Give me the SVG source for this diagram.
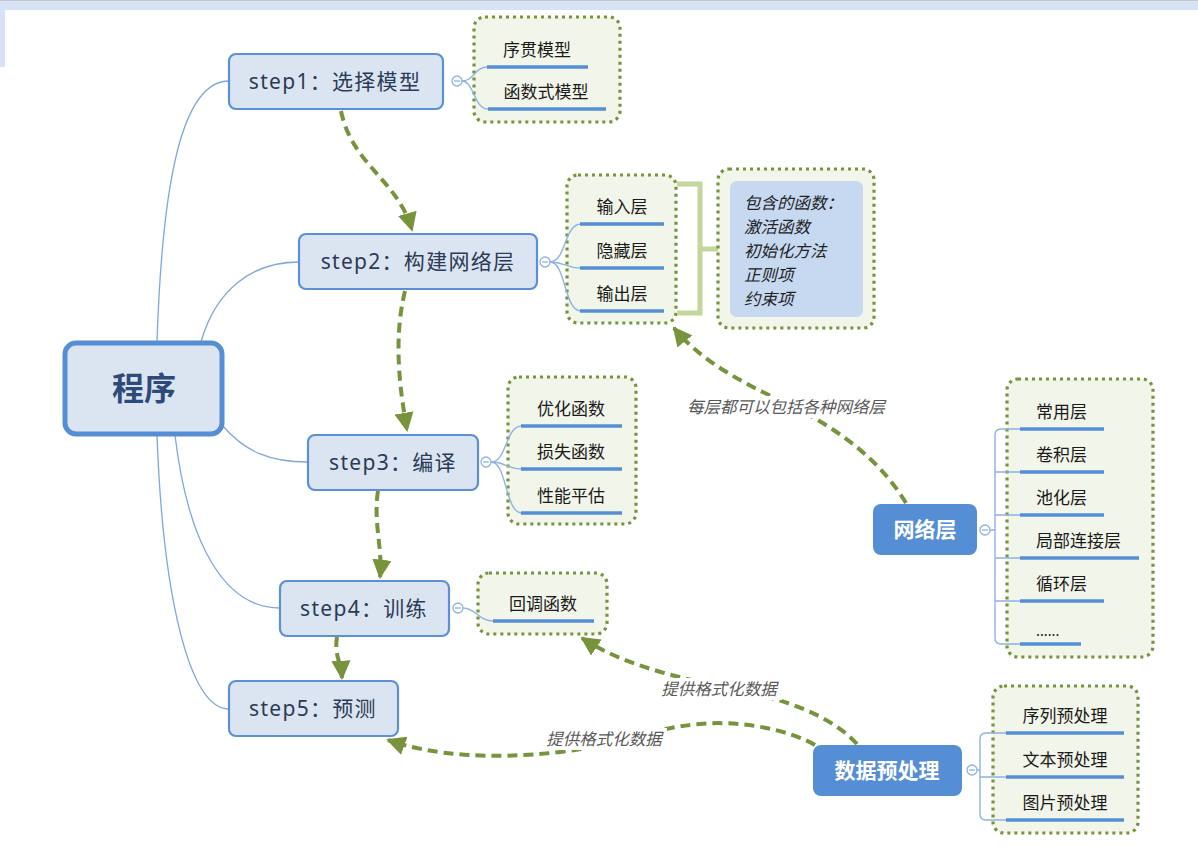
<svg xmlns="http://www.w3.org/2000/svg" width="1198" height="856" viewBox="0 0 1198 856">
<defs>
<style>
.bg{fill:#ffffff}
.band{fill:#d6e2f6}
.tree{fill:none;stroke:#7fa7dc;stroke-width:1.3}
.br{fill:none;stroke:#8db3e2;stroke-width:1.4}
.ul{stroke:#558ed5;stroke-width:3.5;fill:none}
.step rect{fill:#dbe5f1;stroke:#5b8fd6;stroke-width:2.2}
.step text{font-family:"Noto Sans","Noto Sans CJK SC",sans-serif;font-size:21px;fill:#2b3a55;text-anchor:middle;letter-spacing:1.3px}
.grp{fill:#f2f5ea;stroke:#77933c;stroke-width:3.2;stroke-dasharray:3 4}
.item{font-family:"Noto Sans CJK SC","Noto Sans",sans-serif;font-size:17px;fill:#1a1a1a;text-anchor:middle}
.col{fill:#ffffff;stroke:#8db3e2;stroke-width:1.3}
.colm{stroke:#8db3e2;stroke-width:1.3}
.dash{fill:none;stroke:#77933c;stroke-width:4;stroke-dasharray:10 6}
.lbl{font-family:"Noto Sans CJK SC",sans-serif;font-size:16.5px;font-style:italic;fill:#595959;text-anchor:middle}
.note{font-family:"Noto Sans CJK SC",sans-serif;font-size:16.5px;font-style:italic;fill:#222222}
.brk{fill:none;stroke:#c3d69b;stroke-width:5}
.hubt{font-family:"Noto Sans CJK SC",sans-serif;font-size:21px;font-weight:bold;fill:#ffffff;text-anchor:middle}
</style>
<marker id="ah" viewBox="0 0 10 10" refX="9" refY="5" markerWidth="4.8" markerHeight="4.8" orient="auto" markerUnits="strokeWidth">
<path d="M0,0 L10,5 L0,10 Z" fill="#77933c"/>
</marker>
</defs>
<rect class="bg" x="0" y="0" width="1198" height="856"/>
<rect class="band" x="0" y="0" width="1198" height="10"/>
<rect class="band" x="0" y="0" width="5" height="67"/>
<line x1="0" y1="0.5" x2="1198" y2="0.5" stroke="#c8c8c8" stroke-width="1"/>

<g id="connectors">
<path class="tree" d="M157,342 C162,190 180,81 229,81"/>
<path class="tree" d="M201,342 C215,292 250,262 299,262"/>
<path class="tree" d="M222,425 C245,452 270,462 308,462"/>
<path class="tree" d="M175,435 C188,545 225,608 280,608"/>
<path class="tree" d="M157,435 C163,600 190,709 229,709"/>
<path class="dash" marker-end="url(#ah)" d="M341,111 C352,165 398,180 412,230"/>
<path class="dash" marker-end="url(#ah)" d="M405,291 C393,340 400,390 407,430"/>
<path class="dash" marker-end="url(#ah)" d="M378,491 C373,522 383,550 380,577"/>
<path class="dash" marker-end="url(#ah)" d="M337,637 C334,655 341,662 342,678"/>
<path class="dash" marker-end="url(#ah)" d="M906,503 C880,460 840,430 790,405 C740,382 700,360 674,328"/>
<path class="dash" marker-end="url(#ah)" d="M857,744 C835,720 800,705 760,695 C700,682 630,670 582,638"/>
<path class="dash" marker-end="url(#ah)" d="M815,745 C790,730 740,720 700,724 C650,728 620,745 560,752 C490,760 430,755 388,740"/>
<rect x="680" y="396" width="212" height="22" fill="#ffffff"/>
<text class="lbl" x="786" y="413">每层都可以包括各种网络层</text>
<rect x="656" y="678" width="126" height="22" fill="#ffffff"/>
<text class="lbl" x="719" y="695">提供格式化数据</text>
<rect x="541" y="728" width="126" height="22" fill="#ffffff"/>
<text class="lbl" x="604" y="745">提供格式化数据</text>
</g>

<g id="root">
<rect x="65" y="343" width="157" height="91" rx="11" fill="#dbe5f1" stroke="#558ed5" stroke-width="5"/>
<text x="144" y="400" font-family="Noto Sans CJK SC,sans-serif" font-size="32" font-weight="bold" fill="#2e4a7a" text-anchor="middle">程序</text>
</g>

<g id="step1" class="step">
<rect x="229" y="54" width="214" height="55" rx="7"/>
<text x="335" y="89">step1：选择模型</text>
</g>
<g id="step1-children">
<rect class="grp" x="474" y="17" width="146" height="105" rx="11"/>
<path class="br" d="M462,81 C474,81 474,67 488,67"/>
<path class="br" d="M462,81 C474,81 474,109 488,109"/>
<line class="ul" x1="487" y1="67" x2="588" y2="67"/>
<line class="ul" x1="488" y1="109" x2="606" y2="109"/>
<text class="item" x="537" y="56">序贯模型</text>
<text class="item" x="546" y="98">函数式模型</text>
<circle class="col" cx="457" cy="81" r="5"/>
<line class="colm" x1="454" y1="81" x2="460" y2="81"/>
</g>

<g id="step2" class="step">
<rect x="299" y="234" width="238" height="55" rx="7"/>
<text x="418" y="269">step2：构建网络层</text>
</g>
<g id="step2-children">
<rect class="grp" x="567" y="175" width="109" height="148" rx="11"/>
<path class="br" d="M550,262 C566,262 564,224 581,224"/>
<path class="br" d="M550,262 C566,262 564,268 581,268"/>
<path class="br" d="M550,262 C566,262 564,311 581,311"/>
<line class="ul" x1="580" y1="224" x2="664" y2="224"/>
<line class="ul" x1="580" y1="268" x2="664" y2="268"/>
<line class="ul" x1="580" y1="311" x2="664" y2="311"/>
<text class="item" x="622" y="213">输入层</text>
<text class="item" x="622" y="257">隐藏层</text>
<text class="item" x="622" y="300">输出层</text>
<circle class="col" cx="545" cy="262" r="5"/>
<line class="colm" x1="542" y1="262" x2="548" y2="262"/>
</g>

<g id="summary">
<path class="brk" d="M677,184 L700,184 L700,313 L677,313 M700,249 L720,249"/>
</g>
<g id="note">
<rect class="grp" x="718" y="169" width="156" height="159" rx="11"/>
<rect x="730" y="181" width="133" height="136" rx="7" fill="#c6d9f1"/>
<text class="note" x="744" y="209">包含的函数：</text>
<text class="note" x="744" y="233">激活函数</text>
<text class="note" x="744" y="257">初始化方法</text>
<text class="note" x="744" y="281">正则项</text>
<text class="note" x="744" y="305">约束项</text>
</g>

<g id="step3" class="step">
<rect x="308" y="435" width="170" height="55" rx="7"/>
<text x="393" y="470">step3：编译</text>
</g>
<g id="step3-children">
<rect class="grp" x="508" y="377" width="128" height="147" rx="11"/>
<path class="br" d="M491,462 C507,462 505,426 522,426"/>
<path class="br" d="M491,462 C507,462 505,469 522,469"/>
<path class="br" d="M491,462 C507,462 505,513 522,513"/>
<line class="ul" x1="521" y1="426" x2="622" y2="426"/>
<line class="ul" x1="521" y1="469" x2="622" y2="469"/>
<line class="ul" x1="521" y1="513" x2="622" y2="513"/>
<text class="item" x="571" y="415">优化函数</text>
<text class="item" x="571" y="458">损失函数</text>
<text class="item" x="571" y="502">性能平估</text>
<circle class="col" cx="486" cy="462" r="5"/>
<line class="colm" x1="483" y1="462" x2="489" y2="462"/>
</g>

<g id="step4" class="step">
<rect x="280" y="581" width="169" height="55" rx="7"/>
<text x="364" y="616">step4：训练</text>
</g>
<g id="step4-children">
<rect class="grp" x="478" y="573" width="129" height="61" rx="11"/>
<path class="br" d="M463,608 C476,608 478,621 494,621"/>
<line class="ul" x1="493" y1="621" x2="594" y2="621"/>
<text class="item" x="543" y="610">回调函数</text>
<circle class="col" cx="458" cy="608" r="5"/>
<line class="colm" x1="455" y1="608" x2="461" y2="608"/>
</g>

<g id="step5" class="step">
<rect x="229" y="681" width="169" height="55" rx="7"/>
<text x="313" y="716">step5：预测</text>
</g>

<g id="network">
<rect x="873" y="504" width="104" height="51" rx="8" fill="#558ed5"/>
<text class="hubt" x="925" y="537">网络层</text>
</g>
<g id="network-children">
<rect class="grp" x="1007" y="379" width="146" height="278" rx="11"/>
<path class="br" d="M990,530 L995,530 M1020,429 L1001,429 Q995,429 995,435 L995,638 Q995,644 1001,644 L1020,644 M995,472 L1020,472 M995,515 L1020,515 M995,558 L1020,558 M995,601 L1020,601"/>
<line class="ul" x1="1020" y1="429" x2="1104" y2="429"/>
<line class="ul" x1="1020" y1="472" x2="1104" y2="472"/>
<line class="ul" x1="1020" y1="515" x2="1104" y2="515"/>
<line class="ul" x1="1020" y1="558" x2="1139" y2="558"/>
<line class="ul" x1="1020" y1="601" x2="1104" y2="601"/>
<line class="ul" x1="1020" y1="644" x2="1081" y2="644"/>
<text class="item" x="1036" y="418" style="text-anchor:start">常用层</text>
<text class="item" x="1036" y="461" style="text-anchor:start">卷积层</text>
<text class="item" x="1036" y="504" style="text-anchor:start">池化层</text>
<text class="item" x="1036" y="547" style="text-anchor:start">局部连接层</text>
<text class="item" x="1036" y="590" style="text-anchor:start">循环层</text>
<text class="item" x="1036" y="636" style="text-anchor:start;font-size:14px">......</text>
<circle class="col" cx="985" cy="530" r="5"/>
<line class="colm" x1="982" y1="530" x2="988" y2="530"/>
</g>

<g id="preprocess">
<rect x="813" y="745" width="149" height="51" rx="8" fill="#558ed5"/>
<text class="hubt" x="887" y="778">数据预处理</text>
</g>
<g id="preprocess-children">
<rect class="grp" x="993" y="686" width="145" height="147" rx="11"/>
<path class="br" d="M977,770 L980,770 M1006,733 L986,733 Q980,733 980,739 L980,814 Q980,820 986,820 L1006,820 M980,777 L1006,777"/>
<line class="ul" x1="1006" y1="733" x2="1124" y2="733"/>
<line class="ul" x1="1006" y1="777" x2="1124" y2="777"/>
<line class="ul" x1="1006" y1="820" x2="1124" y2="820"/>
<text class="item" x="1065" y="722">序列预处理</text>
<text class="item" x="1065" y="766">文本预处理</text>
<text class="item" x="1065" y="809">图片预处理</text>
<circle class="col" cx="972" cy="770" r="5"/>
<line class="colm" x1="969" y1="770" x2="975" y2="770"/>
</g>
</svg>
